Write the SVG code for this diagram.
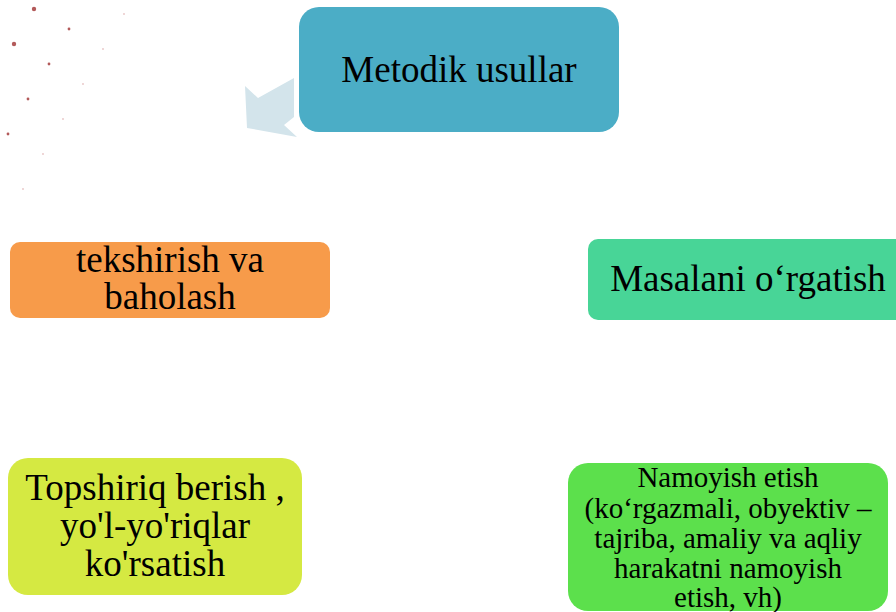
<svg xmlns="http://www.w3.org/2000/svg" width="896" height="612" viewBox="0 0 896 612">
<style>
text{font-family:'Liberation Serif','Times New Roman',Times,serif;fill:#000;text-anchor:middle}
.big{font-size:37px}
.sm{font-size:29px}
.dot{fill:#b35a5a}
.fd{fill:#e8c4c4}
</style>
<rect width="896" height="612" fill="#fff"/>
<g id="decor">
<circle class="dot" cx="34" cy="9" r="2.2"/>
<circle class="dot" cx="69" cy="29" r="1.4"/>
<circle class="dot" cx="14" cy="44" r="2.2"/>
<circle class="dot" cx="49" cy="64" r="1.4"/>
<circle class="dot" cx="28" cy="99" r="1.4"/>
<circle class="dot" cx="8" cy="134" r="1.4"/>
<circle class="fd" cx="124" cy="14" r="0.9"/>
<circle class="fd" cx="103" cy="49" r="0.9"/>
<circle class="fd" cx="83" cy="84" r="0.9"/>
<circle class="fd" cx="63" cy="119" r="0.9"/>
<circle class="fd" cx="43" cy="154" r="0.9"/>
<circle class="fd" cx="23" cy="189" r="0.9"/>
</g>
<g id="connectors">
<polygon points="245,86 258,98 294,78 294,117 284,125 297,137 247,128" fill="#d3e4eb"/>
</g>
<g font-family="Liberation Serif, serif">
<g id="n-metodik">
<rect x="299" y="7" width="320" height="125" rx="20" fill="#4badc6"/>
<text class="big" x="459" y="82">Metodik usullar</text>
</g>
<g id="n-tekshirish">
<rect x="10" y="242" width="320" height="76" rx="10" fill="#f79b4a"/>
<text class="big" x="170" y="272">tekshirish va</text>
<text class="big" x="170" y="309">baholash</text>
</g>
<g id="n-masalani">
<rect x="588" y="239" width="330" height="81" rx="10" fill="#48d597"/>
<text class="big" x="748" y="291">Masalani o‘rgatish</text>
</g>
<g id="n-topshiriq">
<rect x="8" y="458" width="294" height="137" rx="20" fill="#d5e942"/>
<text class="big" x="155" y="500">Topshiriq berish ,</text>
<text class="big" x="155" y="538">yo'l-yo'riqlar</text>
<text class="big" x="155" y="576">ko'rsatish</text>
</g>
<g id="n-namoyish">
<rect x="568" y="463" width="320" height="148" rx="20" fill="#5ce04c"/>
<text class="sm" x="728" y="487">Namoyish etish</text>
<text class="sm" x="728" y="518">(ko‘rgazmali, obyektiv –</text>
<text class="sm" x="728" y="548">tajriba, amaliy va aqliy</text>
<text class="sm" x="728" y="578">harakatni namoyish</text>
<text class="sm" x="728" y="607">etish, vh)</text>
</g>
</g>
</svg>
